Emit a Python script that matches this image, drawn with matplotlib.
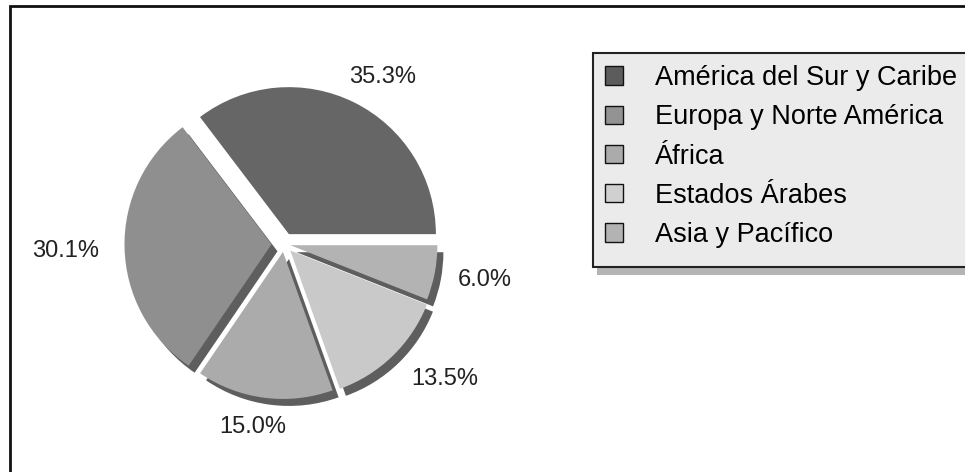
import numpy as np
import matplotlib
matplotlib.use('Agg')
import matplotlib.pyplot as plt
from matplotlib.patches import Rectangle, Patch

regions = ['América del Sur y Caribe', 'Europa y Norte América', 'África',
           'Estados Árabes', 'Asia y Pacífico']
shares = [35.3, 30.1, 15.0, 13.5, 6.0]

colors = ['#666666', '#8f8f8f', '#ababab', '#c9c9c9', '#b3b3b3']
legend_colors = ['#5c5c5c', '#939393', '#ababab', '#d0d0d0', '#b3b3b3']
shadow_colors = ['none', '#5e5e5e', '#5e5e5e', '#5e5e5e', '#5e5e5e']
explode = [11, 12.5, 8, 9, 6.5]          # pixels
label_dist = [1.32, 1.49, 1.26, 1.43, 1.39]
label_nudge = [-4, 0.5, -2.4, 6, 0.7]    # degrees

W, H = 965, 472
plt.rcParams['font.family'] = ['Liberation Sans', 'DejaVu Sans']
fig = plt.figure(figsize=(W / 100, H / 100), dpi=100)
fig.patch.set_facecolor('white')
ax = fig.add_axes([0, 0, 1, 1])

cx, cy, R = 284, H - 244, 147

# dark offset copy of the pie gives the depth effect
ax.pie(shares, explode=explode, colors=shadow_colors, center=(cx + 6, cy - 7),
       radius=R, wedgeprops=dict(linewidth=0))
wedges, texts = ax.pie(shares, explode=explode, colors=colors, center=(cx, cy),
                       radius=R, wedgeprops=dict(linewidth=0))

for w, s, d, nd in zip(wedges, shares, label_dist, label_nudge):
    tm = np.deg2rad((w.theta1 + w.theta2) / 2 + nd)
    ax.text(cx + d * R * np.cos(tm), cy + d * R * np.sin(tm), f'{s:.1f}%',
            ha='center', va='center', fontsize=17, color='#222222')

# legend box with shadow
ax.add_patch(Rectangle((597, H - 275), 400, 214, facecolor='#b4b4b4',
                       edgecolor='none', zorder=3))
ax.add_patch(Rectangle((593, H - 267), 400, 214, facecolor='#ebebeb',
                       edgecolor='#222222', linewidth=1.5, zorder=4))
handles = [Patch(facecolor=c, edgecolor='#111111', linewidth=1) for c in legend_colors]
leg = ax.legend(handles, regions, loc='upper left', frameon=False,
                bbox_to_anchor=(605 / W, (H - 65) / H), bbox_transform=fig.transFigure,
                fontsize=19.5, handlelength=0.66, handleheight=0.66,
                handletextpad=1.18, labelspacing=0.49, borderpad=0,
                borderaxespad=0)
leg.set_zorder(5)

# outer frame (only left and top edges show)
ax.add_patch(Rectangle((10, -20), 1000, H - 6 + 20, facecolor='none',
                       edgecolor='#111111', linewidth=2, zorder=6))

ax.set_xlim(0, W)
ax.set_ylim(0, H)
ax.set_aspect('auto')
ax.axis('off')

fig.savefig('out.png', dpi=100)
